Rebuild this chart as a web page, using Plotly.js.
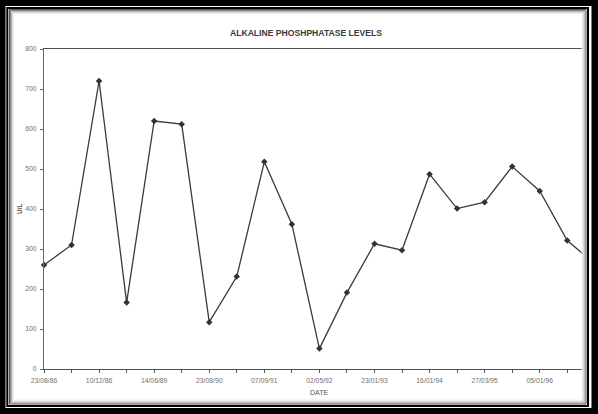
<!DOCTYPE html>
<html>
<head>
<meta charset="utf-8">
<script src="https://cdn.plot.ly/plotly-3.0.1.min.js"></script>
<style>
  html, body { margin: 0; padding: 0; background: #ffffff; }
  #chart { width: 598px; height: 414px; }
</style>
</head>
<body>
<div id="chart"></div>
<script>
// ---- data ----
const chartTitle = "ALKALINE PHOSHPHATASE LEVELS";
const xTitle = "DATE";
const yTitle = "U/L";
// labelled dates (every second sample)
const dateLabels = ["23/08/86", "10/12/86", "14/06/89", "23/08/90", "07/09/91",
                    "02/05/92", "23/01/93", "16/01/94", "27/03/95", "05/01/96"];
// alkaline phosphatase values (U/L), one per sample, in order
const alpValues = [260, 310, 720, 166, 620, 612, 117, 231, 518, 362,
                   51, 191, 313, 297, 487, 401, 417, 506, 445, 321, 263];
const yTickVals = [0, 100, 200, 300, 400, 500, 600, 700, 800];

// ---- derived ----
const sampleIdx = alpValues.map((_, i) => i);
const tickVals = [];
const tickText = [];
for (let i = 0; i < 20; i++) {
  tickVals.push(i);
  tickText.push(i % 2 === 0 ? dateLabels[i / 2] : "");
}

// layout geometry (pixels)
const W = 598, H = 414;
const L = 44, T = 49, R = 15, B = 45;
const PW = W - L - R, PH = H - T - B;
const px = x => (x - L) / PW;          // pixel x -> paper
const py = y => (H - B - y) / PH;      // pixel y -> paper

function frameRect(x0, y0, x1, y1, color, width) {
  return {
    type: "rect", xref: "paper", yref: "paper", layer: "above",
    x0: px(x0), x1: px(x1), y0: py(y1), y1: py(y0),
    line: {color: color, width: width}, fillcolor: "rgba(0,0,0,0)"
  };
}

const shapes = [
  frameRect(2, 2.5, 595, 411.5, "#000000", 7),
  frameRect(7.3, 8, 588, 406, "#000000", 2),
  frameRect(9.5, 9.5, 586, 404, "#555555", 1),
  frameRect(10.5, 10.5, 585, 403, "#8a8a8a", 1),
  frameRect(11.5, 11.5, 584, 402, "#b5b5b5", 1),
  frameRect(12.5, 12.5, 583, 401, "#dadada", 1),
  frameRect(13.5, 13.5, 582, 400, "#eeeeee", 1)
];

const trace = {
  type: "scatter",
  mode: "lines+markers",
  x: sampleIdx,
  y: alpValues,
  cliponaxis: false,
  line: {color: "#3a3a3a", width: 1.3},
  marker: {symbol: "diamond", size: 5, color: "#333333"},
  hoverinfo: "skip"
};

const layout = {
  width: W, height: H,
  margin: {l: L, r: R, t: T, b: B, pad: 0},
  paper_bgcolor: "#ffffff",
  plot_bgcolor: "#ffffff",
  showlegend: false,
  font: {family: "Liberation Sans, Arial, sans-serif", color: "#777777"},
  title: {
    text: chartTitle,
    xref: "paper", x: px(306), xanchor: "center",
    yref: "container", y: 1 - 33 / H, yanchor: "middle",
    font: {family: "Liberation Sans, Arial, sans-serif", size: 8.6, color: "#3a3a3a", weight: "bold"}
  },
  xaxis: {
    range: [0, (W - R - L) / 27.54],
    tickvals: tickVals,
    ticktext: tickText,
    ticks: "outside", ticklen: 3, tickwidth: 1, tickcolor: "#555555",
    tickfont: {size: 6.8, color: "#707070"},
    ticklabelstandoff: 2,
    showline: true, linecolor: "#505050", linewidth: 1,
    mirror: true,
    showgrid: false, zeroline: false,
    fixedrange: true
  },
  yaxis: {
    range: [0, 800],
    tickvals: yTickVals,
    ticks: "outside", ticklen: 3, tickwidth: 1, tickcolor: "#666666",
    tickfont: {size: 6.8, color: "#707070"},
    ticklabelstandoff: 2,
    showline: true, linecolor: "#666666", linewidth: 1,
    showgrid: false, zeroline: false,
    fixedrange: true
  },
  annotations: [
    {
      text: xTitle, xref: "x", x: 10, yref: "paper", y: py(392),
      xanchor: "center", yanchor: "middle", showarrow: false,
      font: {size: 7, color: "#555555"}
    },
    {
      text: "<b>" + yTitle + "</b>", xref: "paper", x: px(19), yref: "y", y: 400,
      xanchor: "center", yanchor: "middle", showarrow: false, textangle: -90,
      font: {size: 6.5, color: "#555555"}
    }
  ],
  shapes: shapes
};

Plotly.newPlot("chart", [trace], layout, {displayModeBar: false, staticPlot: true});
</script>
</body>
</html>
